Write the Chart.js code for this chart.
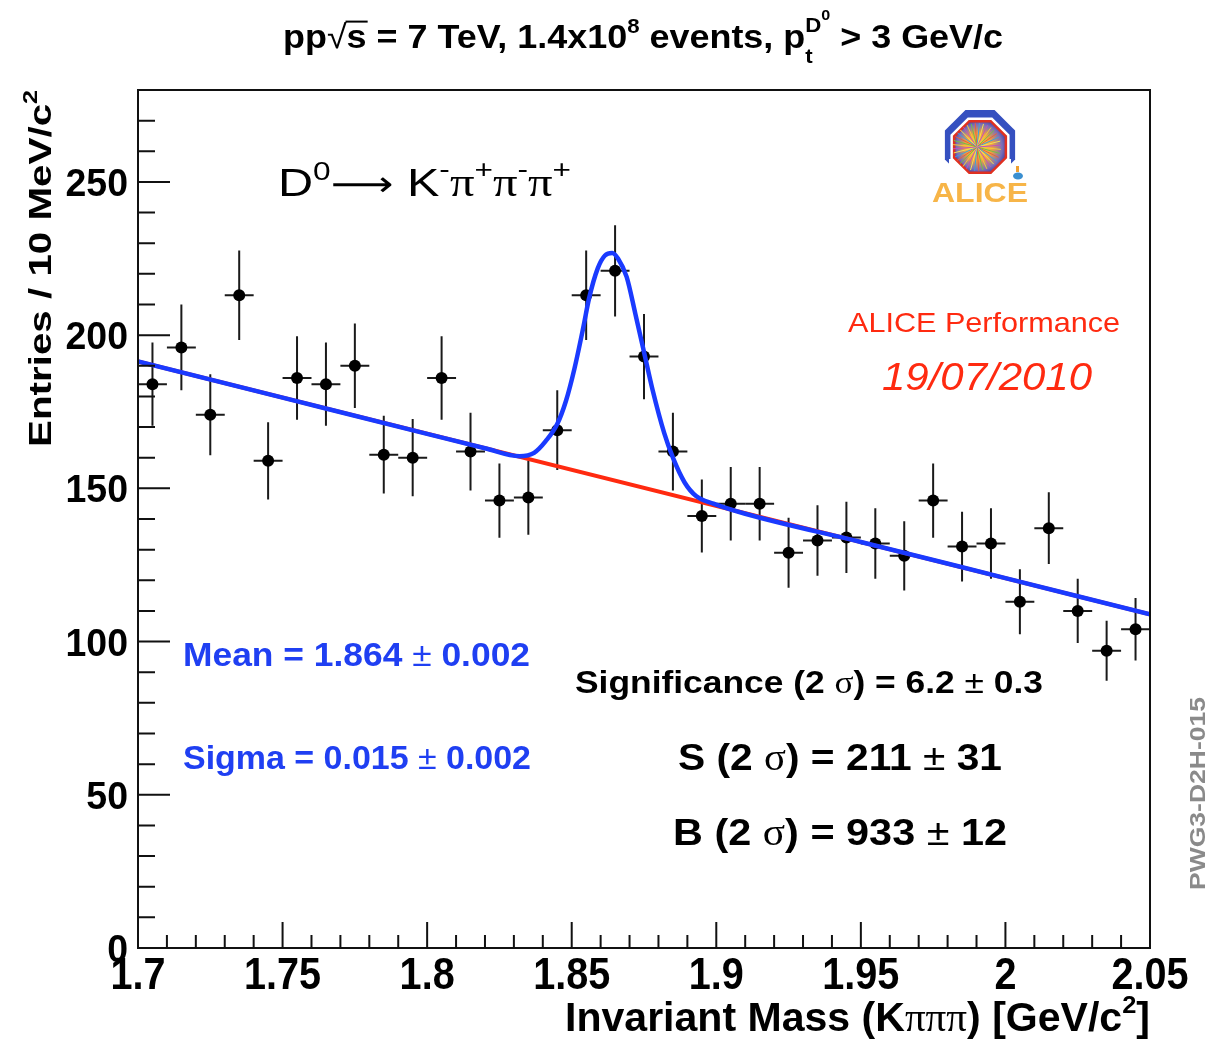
<!DOCTYPE html>
<html>
<head>
<meta charset="utf-8">
<script src="https://cdn.jsdelivr.net/npm/chart.js@4.4.1/dist/chart.umd.min.js"></script>
<style>
  body { margin: 0; background: #fff; }
  #wrap { width: 1211px; height: 1040px; }
</style>
</head>
<body>
<div id="wrap"><canvas id="massChart" width="1211" height="1040"></canvas></div>
<script>
// histogram bins (bin centres, GeV/c2), entries and their errors
const massBins = [1.705, 1.715, 1.725, 1.735, 1.745, 1.755, 1.765, 1.775, 1.785, 1.795,
  1.805, 1.815, 1.825, 1.835, 1.845, 1.855, 1.865, 1.875, 1.885, 1.895,
  1.905, 1.915, 1.925, 1.935, 1.945, 1.955, 1.965, 1.975, 1.985, 1.995,
  2.005, 2.015, 2.025, 2.035, 2.045];
const counts = [184, 196, 174, 213, 159, 186, 184, 190, 161, 160,
  186, 162, 146, 147, 169, 213, 221, 193, 162, 141,
  145, 145, 129, 133, 134, 132, 128, 146, 131, 132,
  113, 137, 110, 97, 104];
const countErr = [13.6, 14.0, 13.2, 14.6, 12.6, 13.6, 13.6, 13.8, 12.7, 12.6,
  13.6, 12.7, 12.1, 12.1, 13.0, 14.6, 14.9, 13.9, 12.7, 11.9,
  12.0, 12.0, 11.4, 11.5, 11.6, 11.5, 11.3, 12.1, 11.4, 11.5,
  10.6, 11.7, 10.5, 9.8, 10.2];
const binHalfWidth = 0.005;

// total fit (gaussian + line)
const fitMass = [1.700, 1.750, 1.800, 1.820, 1.832, 1.837, 1.841, 1.845, 1.848, 1.851,
  1.854, 1.856, 1.859, 1.8615, 1.864, 1.866, 1.869, 1.872, 1.875, 1.878,
  1.882, 1.885, 1.889, 1.893, 1.899, 1.910, 1.950, 2.000, 2.050];
const fitValue = [191.4, 179.6, 167.8, 163.1, 160.5, 161.6, 165.4, 171.0, 178.5, 189.3,
  202.5, 212.0, 221.8, 226.0, 226.8, 225.0, 219.0, 207.0, 194.5, 182.0,
  168.0, 160.0, 152.0, 147.5, 145.0, 141.7, 132.5, 120.7, 108.9];

// background line
const bkgMass = [1.700, 2.050];
const bkgValue = [191.4, 108.9];

// axes
const xTickValues = [1.7, 1.75, 1.8, 1.85, 1.9, 1.95, 2.0, 2.05];
const xTickLabels = ['1.7', '1.75', '1.8', '1.85', '1.9', '1.95', '2', '2.05'];
const yTickValues = [0, 50, 100, 150, 200, 250];
const yTickLabels = ['0', '50', '100', '150', '200', '250'];

const BLUE = '#1a3aff';
const RED = '#ff2a10';
const SERIF = "'Liberation Serif', 'DejaVu Serif', serif";

// rich text: pieces are {t, s (size factor), dy (em, negative = up), w (weight), f (family), over, mark, back}
function richLayout(ctx, pieces, size, weight, family, italic) {
  let x = 0, maxX = 0, markX = 0;
  const out = [];
  pieces.forEach(p => {
    const s = p.s || 1;
    const w = p.w || weight;
    const font = (italic ? 'italic ' : '') + w + ' ' + (size * s) + 'px ' + (p.f || family);
    ctx.font = font;
    if (p.back) x = markX;
    if (p.mark) markX = x;
    const wd = ctx.measureText(p.t).width;
    out.push({ t: p.t, x: x, dy: (p.dy || 0) * size, font: font, wd: wd, over: p.over, size: size * s });
    x += wd;
    maxX = Math.max(maxX, x);
    if (p.back) x = maxX;
  });
  return { items: out, width: maxX };
}

function drawRich(ctx, pieces, o) {
  const lay = richLayout(ctx, pieces, o.size, o.weight || 'bold', o.family || "'Liberation Sans', Arial, sans-serif", o.italic);
  const sx = o.width ? o.width / lay.width : (o.sx || 1);
  let x0 = 0;
  if (o.align === 'right') x0 = -lay.width;
  if (o.align === 'center') x0 = -lay.width / 2;
  ctx.save();
  ctx.translate(o.x, o.y);
  if (o.rot) ctx.rotate(o.rot);
  ctx.scale(sx, 1);
  ctx.fillStyle = o.color || '#000';
  ctx.strokeStyle = o.color || '#000';
  ctx.textBaseline = 'alphabetic';
  ctx.textAlign = 'left';
  lay.items.forEach(it => {
    ctx.font = it.font;
    ctx.fillText(it.t, x0 + it.x, it.dy);
    if (it.over) {
      ctx.lineWidth = 2;
      ctx.beginPath();
      ctx.moveTo(x0 + it.x - 1, it.dy - it.size * 0.8);
      ctx.lineTo(x0 + it.x + it.wd + 1, it.dy - it.size * 0.8);
      ctx.stroke();
    }
  });
  ctx.restore();
}

function txt(t, extra) { return Object.assign({ t: t }, extra || {}); }

// error bars under the markers
const errorBarPlugin = {
  id: 'errorBars',
  beforeDatasetsDraw(chart) {
    const ctx = chart.ctx, xs = chart.scales.x, ys = chart.scales.y;
    ctx.save();
    ctx.beginPath();
    ctx.rect(chart.chartArea.left, chart.chartArea.top, chart.chartArea.width, chart.chartArea.height);
    ctx.clip();
    ctx.strokeStyle = '#1a1a1a';
    ctx.lineWidth = 2;
    massBins.forEach((m, i) => {
      const px = xs.getPixelForValue(m);
      const py = ys.getPixelForValue(counts[i]);
      ctx.beginPath();
      ctx.moveTo(px, ys.getPixelForValue(counts[i] + countErr[i]));
      ctx.lineTo(px, ys.getPixelForValue(counts[i] - countErr[i]));
      ctx.moveTo(xs.getPixelForValue(m - binHalfWidth), py);
      ctx.lineTo(xs.getPixelForValue(m + binHalfWidth), py);
      ctx.stroke();
    });
    ctx.restore();
  }
};

function octagon(ctx, cx, cy, r) {
  ctx.beginPath();
  for (let k = 0; k < 8; k++) {
    const a = Math.PI / 8 + k * Math.PI / 4;
    const px = cx + r * Math.cos(a), py = cy + r * Math.sin(a);
    if (k === 0) ctx.moveTo(px, py); else ctx.lineTo(px, py);
  }
  ctx.closePath();
}

function drawLogo(ctx) {
  const cx = 980, cy = 147;
  ctx.save();
  // blue magnet arch
  ctx.save();
  ctx.beginPath();
  ctx.rect(cx - 45, cy - 45, 90, 67);
  ctx.clip();
  ctx.fillStyle = '#3550c0';
  octagon(ctx, cx, cy - 2, 38);
  ctx.fill();
  ctx.fillStyle = '#fff';
  octagon(ctx, cx, cy, 32);
  ctx.fill();
  ctx.fillRect(cx - 31, cy + 12, 62, 20);
  ctx.restore();
  // red octagon with the event display
  octagon(ctx, cx, cy, 28);
  const g = ctx.createRadialGradient(cx - 3, cy, 2, cx, cy, 28);
  g.addColorStop(0, '#ffd23a');
  g.addColorStop(0.45, '#f0a040');
  g.addColorStop(0.8, '#7a6fb8');
  g.addColorStop(1, '#3d3aa0');
  ctx.fillStyle = g;
  ctx.fill();
  ctx.lineWidth = 2.5;
  ctx.strokeStyle = '#e03020';
  ctx.stroke();
  const rayCols = ['#f2c83a', '#6cc04a', '#e8603a', '#3aa0e0', '#f5e050', '#c050c0'];
  ctx.lineWidth = 1;
  for (let k = 0; k < 36; k++) {
    const a = k * Math.PI / 18 + 0.1;
    ctx.strokeStyle = rayCols[k % rayCols.length];
    ctx.beginPath();
    ctx.moveTo(cx - 3, cy);
    ctx.lineTo(cx - 3 + 24 * Math.cos(a), cy + 24 * Math.sin(a));
    ctx.stroke();
  }
  // muon arm
  ctx.fillStyle = '#3a8fd0';
  ctx.beginPath();
  ctx.ellipse(1018, 176, 5, 3.5, 0, 0, Math.PI * 2);
  ctx.fill();
  ctx.fillStyle = '#f0a030';
  ctx.fillRect(1016, 166, 3, 6);
  ctx.restore();
  drawRich(ctx, [txt('ALICE')], { x: 980, y: 202, size: 28, align: 'center', color: '#f7b548', width: 96 });
}

const decorPlugin = {
  id: 'decor',
  afterDraw(chart) {
    const ctx = chart.ctx, xs = chart.scales.x, ys = chart.scales.y, a = chart.chartArea;
    ctx.save();
    // frame
    ctx.strokeStyle = '#111';
    ctx.lineWidth = 2;
    ctx.strokeRect(a.left, a.top, a.right - a.left, a.bottom - a.top);
    // ticks, drawn inside the frame
    ctx.beginPath();
    for (let v = 170; v <= 205; v++) {
      const px = xs.getPixelForValue(v / 100);
      const len = (v % 5 === 0) ? 26 : 13;
      ctx.moveTo(px, a.bottom);
      ctx.lineTo(px, a.bottom - len);
    }
    for (let v = 0; v <= 280; v += 10) {
      const py = ys.getPixelForValue(v);
      const len = (v % 50 === 0) ? 32 : 17;
      ctx.moveTo(a.left, py);
      ctx.lineTo(a.left + len, py);
    }
    ctx.stroke();
    ctx.restore();

    xTickValues.forEach((v, i) => {
      drawRich(ctx, [txt(xTickLabels[i])], { x: xs.getPixelForValue(v), y: 989, size: 45, align: 'center', sx: 0.88 });
    });
    yTickValues.forEach((v, i) => {
      drawRich(ctx, [txt(yTickLabels[i])], { x: 128, y: ys.getPixelForValue(v) + 14, size: 39, align: 'right', sx: 0.96 });
    });

    // axis titles
    drawRich(ctx, [txt('Invariant Mass (K'), txt('πππ', { w: 'normal', f: SERIF }), txt(') [GeV/c'), txt('2', { s: 0.62, dy: -0.45 }), txt(']')],
      { x: 1150, y: 1031, size: 40, align: 'right', width: 585 });
    drawRich(ctx, [txt('Entries / 10 MeV/c'), txt('2', { s: 0.62, dy: -0.45 })],
      { x: 51, y: 447, size: 32, rot: -Math.PI / 2, width: 357 });

    // title
    drawRich(ctx, [txt('pp'), txt('√', { w: 'normal' }), txt('s', { over: true }), txt(' = 7 TeV, 1.4x10'), txt('8', { s: 0.62, dy: -0.45 }),
      txt(' events, p'), txt('D', { s: 0.62, dy: -0.5, mark: true }), txt('0', { s: 0.45, dy: -0.85 }),
      txt('t', { s: 0.62, dy: 0.45, back: true }), txt(' > 3 GeV/c')],
      { x: 283, y: 48, size: 33, width: 720 });

    // decay channel
    drawRich(ctx, [txt('D'), txt('0', { s: 0.65, dy: -0.42 }), txt('⟶', { f: "'DejaVu Sans', sans-serif", s: 0.9 }), txt(' K'),
      txt('-', { s: 0.65, dy: -0.45 }), txt('π', { f: SERIF }), txt('+', { s: 0.65, dy: -0.45 }), txt('π', { f: SERIF }),
      txt('-', { s: 0.65, dy: -0.45 }), txt('π', { f: SERIF }), txt('+', { s: 0.65, dy: -0.45 })],
      { x: 278, y: 196, size: 39, weight: 'normal', width: 293 });

    drawRich(ctx, [txt('ALICE Performance')], { x: 848, y: 332, size: 28, weight: 'normal', color: RED, width: 272 });
    drawRich(ctx, [txt('19/07/2010')], { x: 882, y: 390, size: 39, weight: 'normal', italic: true, color: RED, width: 210 });

    drawRich(ctx, [txt('Mean = 1.864 '), txt('±', { w: 'normal' }), txt(' 0.002')], { x: 183, y: 666, size: 33, color: '#1f3ff2', width: 347 });
    drawRich(ctx, [txt('Sigma = 0.015 '), txt('±', { w: 'normal' }), txt(' 0.002')], { x: 183, y: 769, size: 33, color: '#1f3ff2', width: 348 });

    drawRich(ctx, [txt('Significance (2 '), txt('σ', { w: 'normal', f: SERIF }), txt(') = 6.2 '), txt('±', { w: 'normal' }), txt(' 0.3')],
      { x: 575, y: 693, size: 32, width: 468 });
    drawRich(ctx, [txt('S (2 '), txt('σ', { w: 'normal', f: SERIF }), txt(') = 211 '), txt('±', { w: 'normal' }), txt(' 31')],
      { x: 678, y: 770, size: 37, width: 324 });
    drawRich(ctx, [txt('B (2 '), txt('σ', { w: 'normal', f: SERIF }), txt(') = 933 '), txt('±', { w: 'normal' }), txt(' 12')],
      { x: 673, y: 845, size: 37, width: 334 });

    drawRich(ctx, [txt('PWG3-D2H-015')], { x: 1205, y: 890, size: 22, rot: -Math.PI / 2, color: '#8a8a8a', width: 193 });

    drawLogo(ctx);
  }
};

const ctx = document.getElementById('massChart');
new Chart(ctx, {
  type: 'scatter',
  data: {
    datasets: [{
      // total fit, drawn on top
      data: fitMass.map((m, i) => ({ x: m, y: fitValue[i] })),
      showLine: true,
      borderColor: BLUE,
      borderWidth: 4.5,
      pointRadius: 0,
      cubicInterpolationMode: 'monotone',
      fill: false
    }, {
      data: bkgMass.map((m, i) => ({ x: m, y: bkgValue[i] })),
      showLine: true,
      borderColor: RED,
      borderWidth: 4,
      pointRadius: 0,
      fill: false
    }, {
      data: massBins.map((m, i) => ({ x: m, y: counts[i] })),
      showLine: false,
      pointRadius: 6,
      pointBackgroundColor: '#000',
      pointBorderWidth: 0
    }]
  },
  options: {
    responsive: false,
    animation: false,
    layout: { padding: { left: 138, right: 61, top: 90, bottom: 92 } },
    plugins: { legend: { display: false }, tooltip: { enabled: false } },
    scales: {
      x: { type: 'linear', min: 1.7, max: 2.05, display: false },
      y: { type: 'linear', min: 0, max: 280, display: false }
    }
  },
  plugins: [errorBarPlugin, decorPlugin]
});
</script>
</body>
</html>
